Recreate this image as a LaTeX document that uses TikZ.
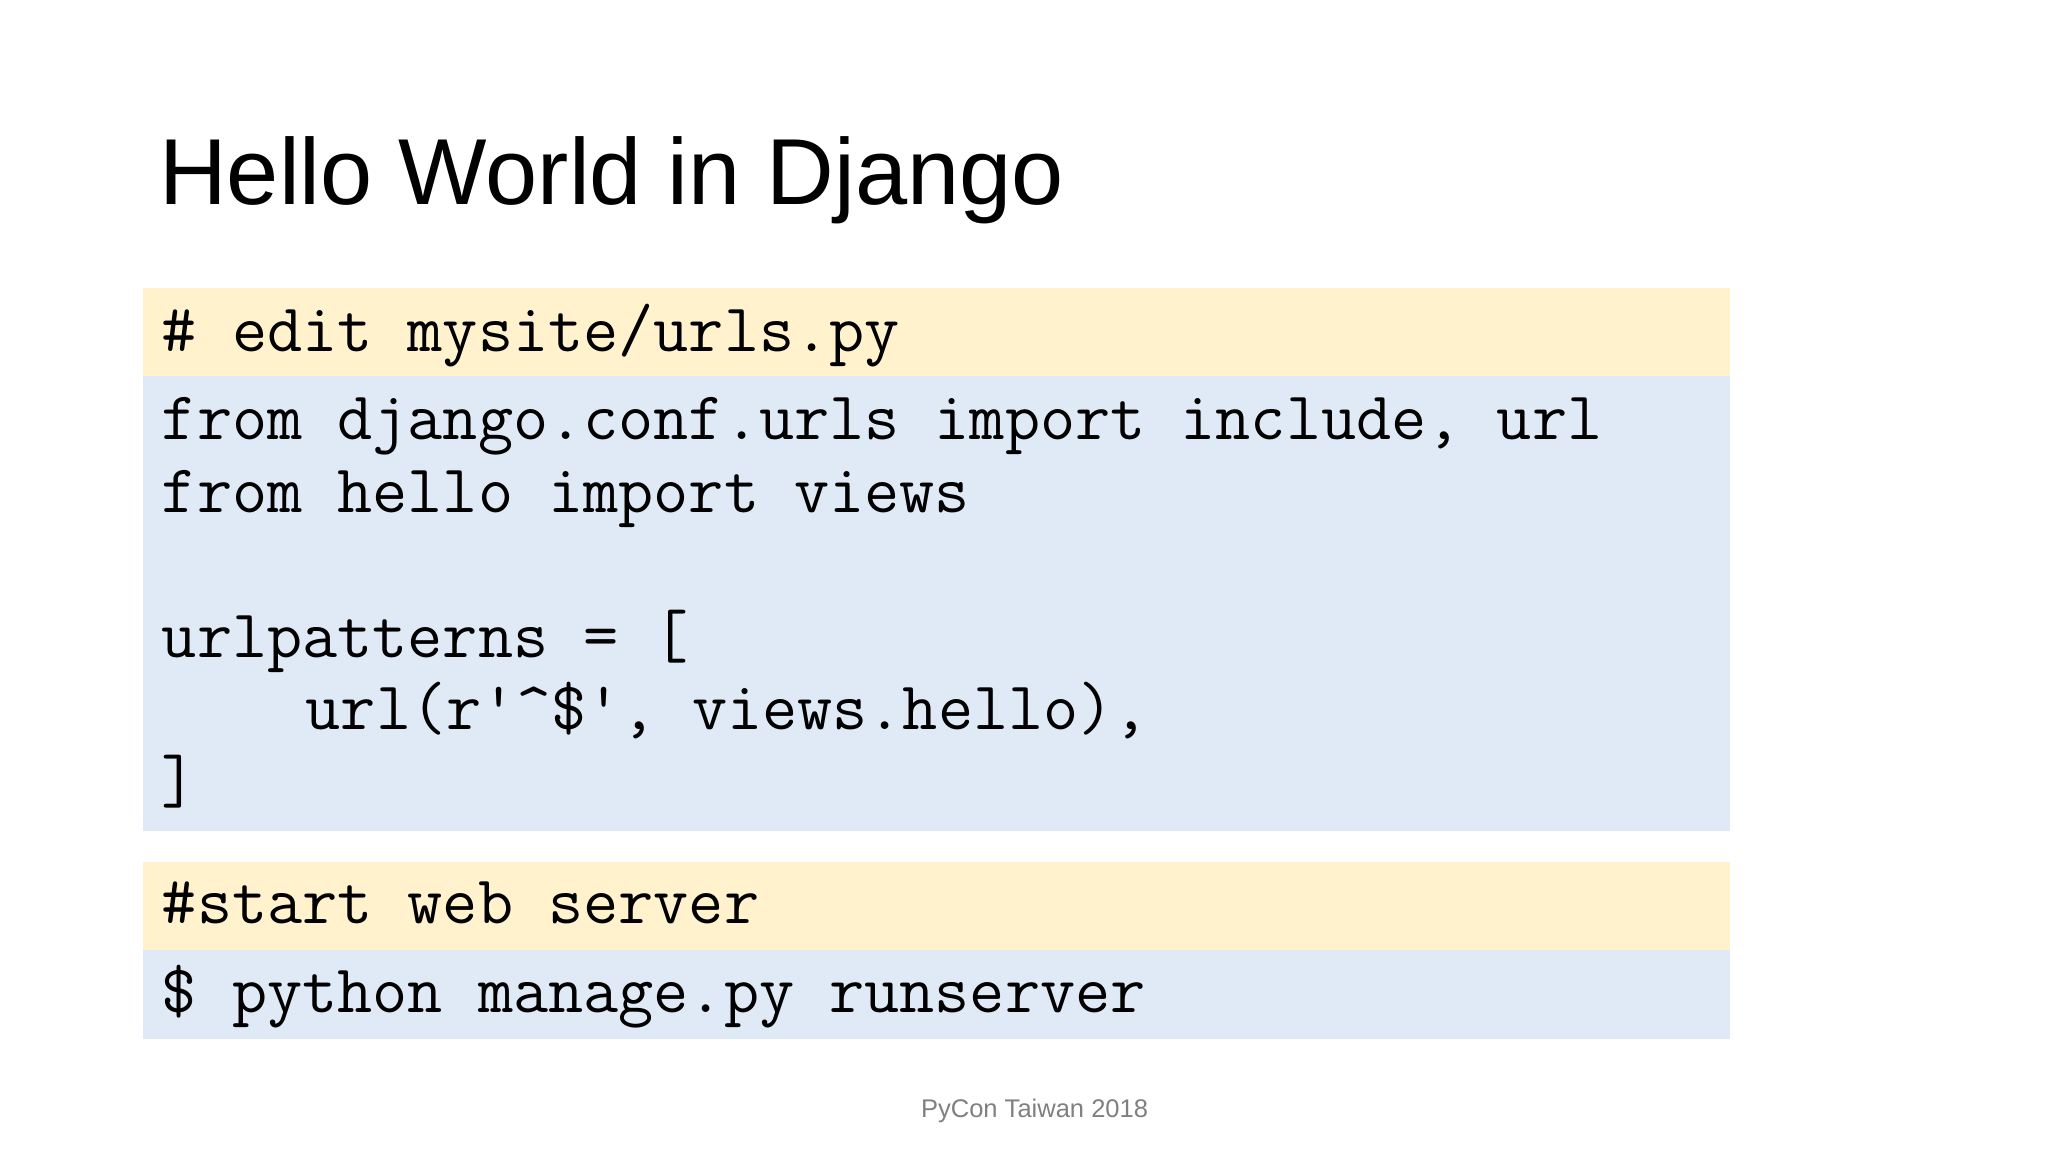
\documentclass[tikz,border=0pt]{standalone}
\usepackage{fontspec}
\setmainfont{Liberation Sans}
\definecolor{ylw}{HTML}{FFF2CC}
\definecolor{blu}{HTML}{DFEAF6}
\begin{document}
\begin{tikzpicture}[x=0.01cm,y=-0.01cm,
  code/.style={anchor=base west,inner sep=0pt,font=\fontsize{14.7}{17}\ttfamily}]
\useasboundingbox (0,0) rectangle (1552,873);
\fill[white] (0,0) rectangle (1552,873);
\fill[ylw] (108,218) rectangle (1311,285);
\fill[blu] (108,285) rectangle (1311,630);
\fill[ylw] (108,653) rectangle (1311,720);
\fill[blu] (108,720) rectangle (1311,787);
\node[anchor=base west,inner sep=0pt,font=\fontsize{20.2}{24}\selectfont] (title) at (120,155) {Hello World in Django};
\node[code] (c1) at (122,266) {\# edit mysite/urls.py};
\node[code] (c2) at (122,333) {from django.conf.urls import include, url};
\node[code] (c3) at (122,388) {from hello import views};
\node[code] (c4) at (122,498) {urlpatterns = [};
\node[code] (c5) at (231,553) {url(r\char`\'\char`\^\$\char`\', views.hello),};
\node[code] (c6) at (122,608) {]};
\node[code] (c7) at (122,700) {\#start web server};
\node[code] (c8) at (122,767) {\$ python manage.py runserver};
\node[anchor=base,inner sep=0pt,font=\fontsize{5.5}{7}\selectfont,text=black!50] (foot) at (784,847) {PyCon Taiwan 2018};
\end{tikzpicture}
\end{document}
